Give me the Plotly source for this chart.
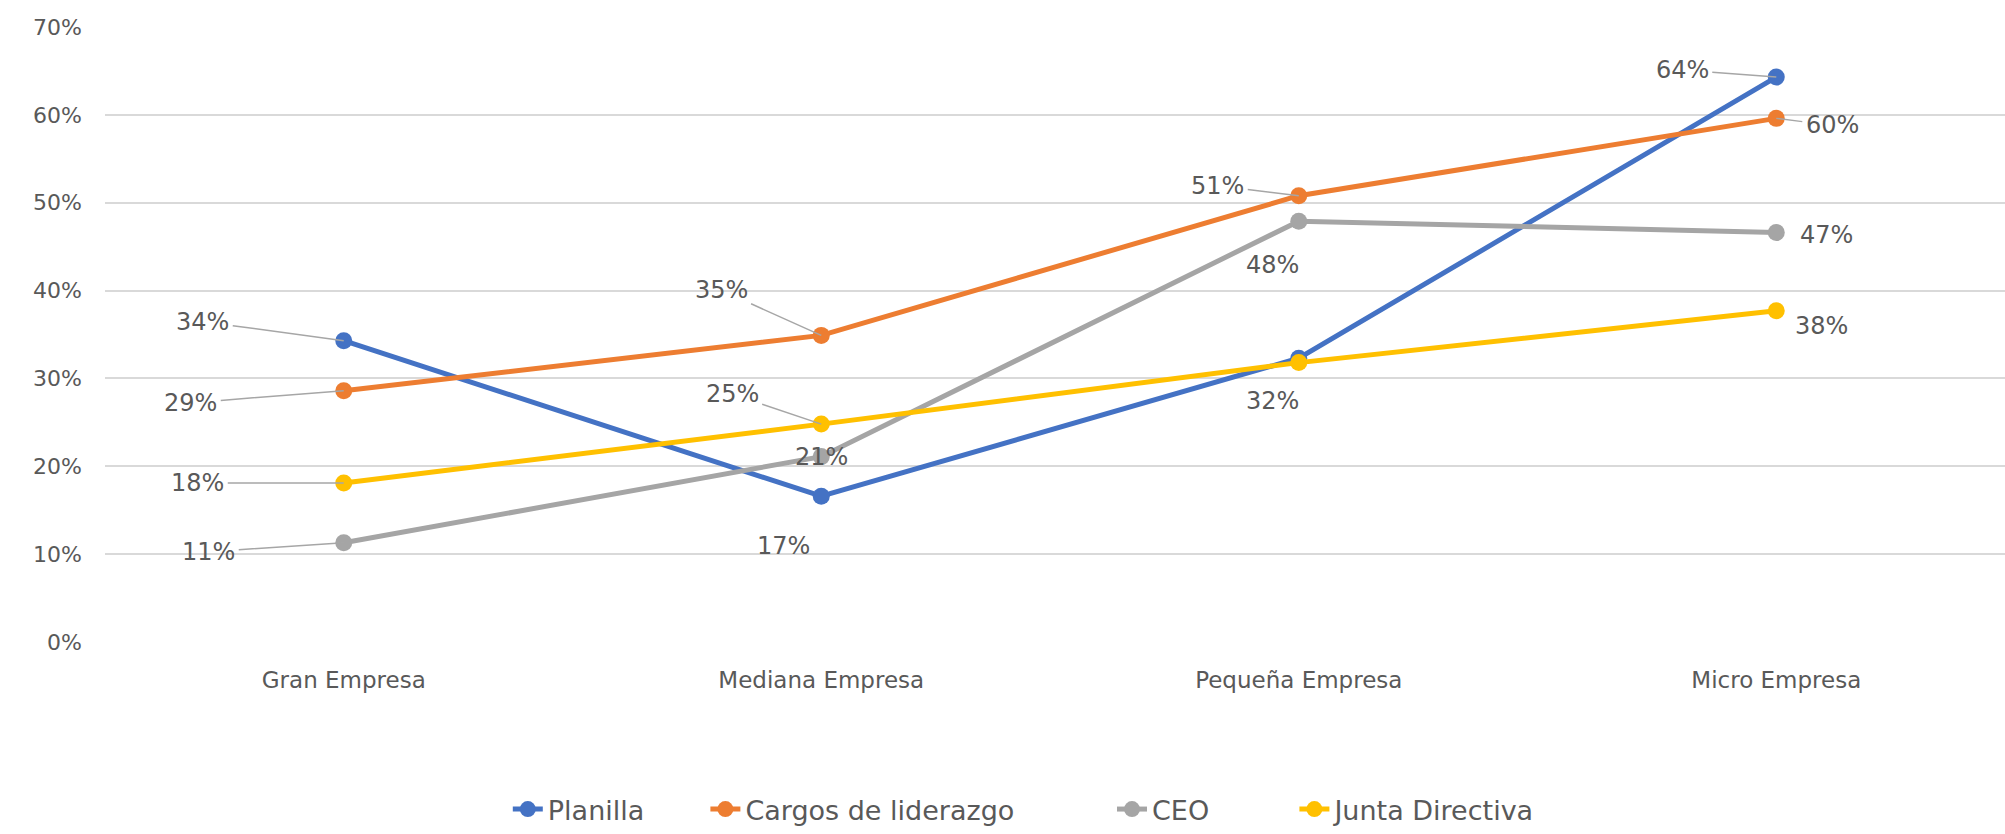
import plotly.graph_objects as go

categories = ["Gran Empresa", "Mediana Empresa", "Pequeña Empresa", "Micro Empresa"]
series_names = ["Planilla", "Cargos de liderazgo", "CEO", "Junta Directiva"]
planilla = [0.343, 0.166, 0.323, 0.643]
cargos = [0.286, 0.349, 0.508, 0.596]
ceo = [0.113, 0.211, 0.479, 0.466]
junta = [0.181, 0.248, 0.318, 0.377]
y_ticks = [0, 0.1, 0.2, 0.3, 0.4, 0.5, 0.6, 0.7]

colors = ["#4472C4", "#ED7D31", "#A5A5A5", "#FFC000"]
series = [planilla, cargos, ceo, junta]
legend_ids = ["legend", "legend2", "legend3", "legend4"]
legend_x = [0.212, 0.316, 0.530, 0.626]

TXT = "#595959"
FONT = "DejaVu Sans"

fig = go.Figure()
for name, vals, col, lid in zip(series_names, series, colors, legend_ids):
    fig.add_trace(go.Scatter(
        x=categories, y=vals, name=name, mode="lines+markers",
        line=dict(color=col, width=5),
        marker=dict(color=col, size=17),
        legend=lid,
    ))

# label placement per series/category: (dx, dy, leader)
placement = {
    0: [(-141, -19, True), (-38, 50, False), (-26, 43, False), (-94, -7, True)],
    1: [(-153, 12, True), (-100, -45, True), (-81, -10, True), (56, 7, True)],
    2: [(-135, 9, True), (0, 0, False), (-26, 44, False), (50, 2, False)],
    3: [(-146, 0, True), (-89, -30, True), (0, 0, None), (45, 15, False)],
}
annotations = []
for si, vals in enumerate(series):
    for ci, v in enumerate(vals):
        dx, dy, leader = placement[si][ci]
        if leader is None:
            continue
        txt = f"{round(v * 100)}%"
        base = dict(x=categories[ci], y=v, xref="x", yref="y", text=txt,
                    font=dict(family=FONT, size=24, color=TXT))
        if leader:
            base.update(showarrow=True, ax=dx, ay=dy, axref="pixel", ayref="pixel",
                        arrowhead=0, arrowwidth=1.5, arrowcolor="#A6A6A6", standoff=0,
                        startstandoff=2)
        else:
            base.update(showarrow=False, xshift=dx, yshift=-dy)
        annotations.append(base)

legend_style = dict(orientation="h", xanchor="left", y=-0.273, yanchor="middle",
                    font=dict(family=FONT, size=27, color=TXT), bgcolor="rgba(0,0,0,0)")
layout_legends = {lid: dict(x=lx, **legend_style) for lid, lx in zip(legend_ids, legend_x)}

fig.update_layout(
    width=2005, height=834,
    margin=dict(l=105, r=0, t=27, b=187),
    paper_bgcolor="white", plot_bgcolor="white",
    font=dict(family=FONT, size=22, color=TXT),
    annotations=annotations,
    showlegend=True,
    **layout_legends,
)
fig.update_xaxes(range=[-0.5, 3.479], showgrid=False, showline=False, zeroline=False,
                 tickfont=dict(family=FONT, size=23, color=TXT), ticklabelstandoff=22)
fig.update_yaxes(range=[0, 0.7], tickvals=y_ticks, tickformat=".0%", showgrid=True,
                 gridcolor="#D9D9D9", gridwidth=2, zeroline=False, showline=False,
                 tickfont=dict(family=FONT, size=22, color=TXT), ticklabelstandoff=22)

fig.write_html("out.html", config={"displayModeBar": False},
               post_script="document.body.style.margin='0';document.body.style.overflow='hidden';")
